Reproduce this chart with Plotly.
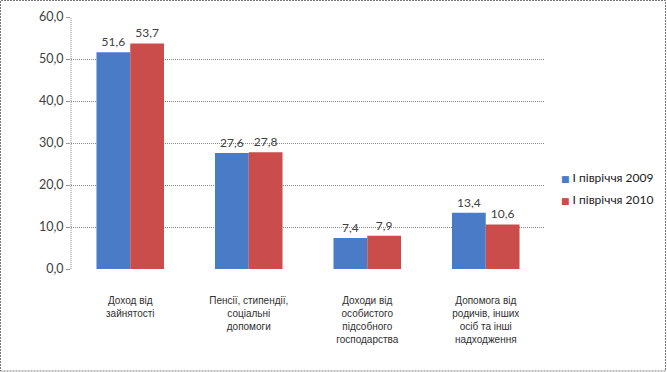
import plotly.graph_objects as go

categories = ["Доход від<br>зайнятості",
              "Пенсії, стипендії,<br>соціальні<br>допомоги",
              "Доходи від<br>особистого<br>підсобного<br>господарства",
              "Допомога від<br>родичів, інших<br>осіб та інші<br>надходження"]
series_2009 = [51.6, 27.6, 7.4, 13.4]
series_2010 = [53.7, 27.8, 7.9, 10.6]
name_2009 = "І півріччя 2009"
name_2010 = "І півріччя 2010"
y_ticks = [0, 10, 20, 30, 40, 50, 60]
colors = ["#4A7BC6", "#CB4D4B"]

W, H = 667, 372
L, R, T, B = 71, 122, 17, 103
pw, ph = W - L - R, H - T - B

fig = go.Figure()
for name, vals, col in [(name_2009, series_2009, colors[0]), (name_2010, series_2010, colors[1])]:
    fig.add_trace(go.Bar(
        x=categories, y=vals, name=name,
        marker=dict(color=col, line=dict(width=0)),
        text=[f"{v:.1f}".replace(".", ",") for v in vals],
        textposition="outside", cliponaxis=False,
        textfont=dict(family="Lato", size=12, color="#404040"),
        showlegend=False, hoverinfo="skip",
    ))

# custom legend (small squares + names)
legend_ann = []
for i, (name, col) in enumerate([(name_2009, colors[0]), (name_2010, colors[1])]):
    legend_ann.append(dict(
        xref="paper", yref="paper",
        x=(559 - L) / pw, y=(269 - (177 + 22 * i)) / ph,
        xanchor="left", yanchor="middle", showarrow=False,
        text=f"<span style='color:{col};font-family:DejaVu Sans;font-size:9px'>■</span> {name}",
        font=dict(family="Lato", size=12, color="#202020"),
    ))

fig.update_layout(
    width=W, height=H,
    margin=dict(l=L, r=R, t=T, b=B, autoexpand=False),
    paper_bgcolor="white", plot_bgcolor="white",
    barmode="group", bargap=0.43, bargroupgap=0,
    separators=", ",
    font=dict(family="Lato", size=12, color="#404040"),
    showlegend=False,
    annotations=legend_ann,
    xaxis=dict(
        showgrid=False, showline=False, ticks="", automargin=False,
        tickfont=dict(family="Liberation Sans", size=10, color="#303030"),
        ticklabelstandoff=24,
    ),
    yaxis=dict(
        range=[0, 60], tickvals=y_ticks, tickformat=".1f", automargin=False,
        showgrid=True, gridcolor="#8A8A8A", griddash="1px,1px", gridwidth=1,
        zeroline=False, showline=False,
        ticks="outside", ticklen=4, tickcolor="#9A9A9A",
        tickfont=dict(family="Lato", size=12.5, color="#404040"),
    ),
    shapes=[
        dict(type="line", xref="paper", yref="paper", x0=0, x1=0, y0=0, y1=1,
             line=dict(color="#8A8A8A", width=1, dash="1px,1px")),
        dict(type="rect", xref="paper", yref="paper",
             x0=(0.5 - L) / pw, x1=(665.5 - L) / pw,
             y0=(269 - 371) / ph, y1=(269 - 0.5) / ph,
             line=dict(color="#777777", width=1, dash="2px,1px")),
    ],
)

fig.write_html("out.html", config={"displayModeBar": False, "staticPlot": True},
               post_script="document.body.style.margin='0';document.body.style.overflow='hidden';")
